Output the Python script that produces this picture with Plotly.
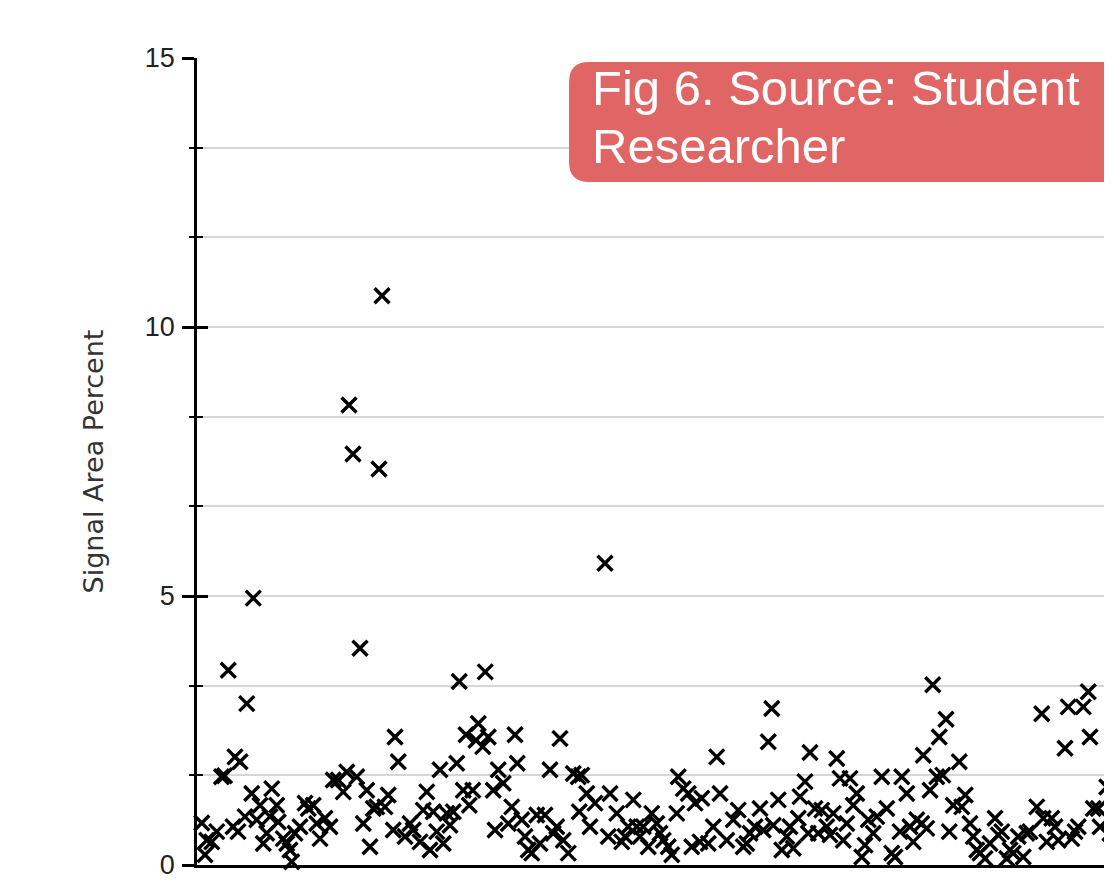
import plotly.graph_objects as go

# Sample index (approx.) and signal area percent
sample = [1.9, 3.2, 3.9, 5.9, 7.9, 9.8, 11.0, 12.5, 14.4, 15.2, 16.4, 17.2, 19.2, 19.9, 21.9, 22.5,
          23.9, 25.2, 26.5, 27.9, 29.2, 29.9, 31.9, 32.5, 34.5, 35.9, 37.2, 37.9, 39.2, 41.2, 43.2,
          44.5, 46.5, 47.9, 49.2, 51.2, 53.2, 54.5, 56.5, 58.5, 59.9, 60.8, 62.4, 63.9, 65.2, 66.5,
          67.9, 69.2, 70.5, 71.9, 72.8, 74.0, 75.2, 76.5, 78.5, 79.2, 80.5, 83.2, 85.2, 86.5, 89.2,
          90.5, 91.9, 93.2, 94.5, 95.9, 97.2, 98.5, 99.9, 101.2, 102.5, 103.9, 104.9, 106.5, 107.6,
          108.9, 110.3, 111.6, 112.5, 114.3, 115.3, 116.5, 118.5, 119.2, 120.5, 122.5, 124.5, 125.9,
          127.2, 128.1, 129.9, 131.2, 132.5, 133.9, 135.9, 137.2, 139.2, 141.2, 142.5, 143.9, 145.2,
          146.5, 148.5, 150.5, 152.5, 152.9, 153.9, 155.9, 157.2, 159.2, 163.2, 164.5, 165.2, 167.9,
          169.9, 171.2, 172.5, 174.5, 175.9, 177.2, 178.5, 180.5, 181.9, 183.9, 185.2, 186.5, 188.5,
          189.9, 191.9, 192.5, 194.5, 196.5, 197.9, 199.2, 201.2, 201.9, 204.5, 206.5, 207.9, 209.2,
          211.9, 214.5, 216.5, 218.5, 219.9, 221.2, 223.2, 225.2, 226.5, 228.5, 229.9, 230.5, 232.5,
          233.9, 235.9, 237.2, 238.5, 240.5, 241.2, 243.2, 244.5, 245.2, 247.2, 248.5, 249.9, 251.9,
          253.2, 254.5, 255.9, 257.2, 258.5, 259.9, 261.2, 262.5, 263.9, 265.9, 267.2, 268.5, 270.5,
          271.9, 273.9, 275.9, 277.9, 279.2, 281.2, 281.9, 283.9, 285.2, 286.5, 287.9, 289.9, 290.5,
          291.9, 293.2, 294.3, 295.9, 296.9, 298.3, 299.6, 300.9, 302.5, 304.9, 305.9, 307.3, 309.2,
          310.5, 311.9, 313.2, 315.2, 317.2, 319.2, 320.5, 321.9, 323.9, 325.2, 326.5, 328.5, 330.5,
          331.9, 333.2, 335.9, 337.9, 338.5, 339.9, 341.9, 343.2, 344.5, 347.2, 348.5, 349.9, 351.2,
          352.5, 354.5, 356.5, 357.2, 358.5, 360.5, 361.2, 363.9, 365.2]

signal_area_pct = [0.78, 0.19, 0.46, 0.43, 0.62, 1.64, 1.66, 3.62, 0.71, 2.01, 0.62, 1.92, 0.90, 3.00,
                   1.33, 4.96, 0.84, 1.11, 0.40, 0.59, 0.90, 1.42, 1.11, 0.80, 0.49, 0.40, 0.28, 0.06,
                   0.59, 0.71, 1.15, 1.05, 1.11, 0.77, 0.49, 0.87, 0.71, 1.58, 1.58, 1.36, 1.73, 8.55,
                   7.64, 1.64, 4.03, 0.77, 1.39, 0.34, 1.05, 1.08, 7.36, 10.58, 1.08, 1.30, 0.65, 2.38,
                   1.92, 0.53, 0.77, 0.65, 0.43, 1.02, 1.36, 0.28, 0.99, 0.62, 1.77, 0.40, 0.96, 0.74,
                   0.99, 1.89, 3.41, 1.39, 2.42, 1.11, 1.39, 2.32, 2.63, 2.20, 3.59, 2.38, 1.39, 0.65,
                   1.77, 1.52, 0.77, 1.08, 2.42, 1.89, 0.84, 0.53, 0.28, 0.22, 0.93, 0.40, 0.93, 1.77,
                   0.59, 0.71, 2.35, 0.46, 0.22, 1.70, 1.64, 0.99, 1.67, 1.33, 0.71, 1.15, 5.61, 0.53,
                   1.33, 0.96, 0.43, 0.53, 0.71, 1.21, 0.71, 0.53, 0.71, 0.34, 0.96, 0.77, 0.59, 0.46,
                   0.34, 0.19, 0.96, 1.64, 1.42, 1.33, 0.34, 1.15, 0.43, 1.24, 0.40, 0.71, 2.01, 1.33,
                   0.46, 0.84, 1.02, 0.34, 0.40, 0.59, 0.71, 1.05, 0.65, 2.29, 2.91, 0.74, 1.21, 0.28,
                   0.53, 0.71, 0.31, 0.87, 1.27, 1.55, 0.59, 2.09, 1.05, 0.59, 1.02, 0.71, 0.56, 0.96,
                   1.98, 1.61, 0.46, 0.77, 1.61, 1.11, 1.33, 0.15, 0.37, 0.84, 0.59, 0.90, 1.64, 1.05,
                   0.22, 0.15, 0.62, 1.64, 1.33, 0.71, 0.43, 0.84, 0.77, 2.04, 0.68, 1.39, 3.35, 1.64,
                   2.38, 1.67, 2.71, 0.62, 1.11, 1.92, 1.08, 1.30, 0.77, 0.53, 0.28, 0.22, 0.12, 0.40,
                   0.87, 0.56, 0.62, 0.12, 0.28, 0.22, 0.53, 0.15, 0.59, 0.62, 1.08, 2.81, 0.87, 0.43,
                   0.87, 0.71, 0.46, 2.17, 2.94, 0.49, 0.62, 0.71, 2.94, 3.22, 2.38, 1.05, 1.05, 0.71,
                   1.45, 0.59]

y_range = [0, 15]
x_range = [0, 366]
major_step = 5
minor_step = 5 / 3
y_title = "Signal Area Percent"
note_line1 = "Fig 6. Source: Student"
note_line2 = "Researcher"

fig = go.Figure()
fig.add_trace(go.Scatter(
    x=sample, y=signal_area_pct, mode="markers",
    marker=dict(symbol="x-thin-open", size=15, color="black",
                line=dict(color="black", width=3.4)),
    cliponaxis=False, showlegend=False, hoverinfo="skip",
))
# empty trace so the overlaid tick axis is drawn
fig.add_trace(go.Scatter(x=[], y=[], yaxis="y2", showlegend=False, hoverinfo="skip"))

# Box in paper coordinates (rounded left corners, extends beyond right edge)
x0, x1 = 0.4066, 1.05
y0, y1 = 0.8463, 0.995
rx, ry = 0.0219, 0.0248
path = (f"M {x0+rx},{y1} L {x1},{y1} L {x1},{y0} L {x0+rx},{y0} "
        f"Q {x0},{y0} {x0},{y0+ry} L {x0},{y1-ry} Q {x0},{y1} {x0+rx},{y1} Z")
fig.add_shape(type="path", path=path, xref="paper", yref="paper",
              fillcolor="#E06666", line=dict(width=0), layer="above")

fig.add_annotation(text=note_line1, xref="paper", yref="paper", x=0.4295, y=0.9628,
                   xanchor="left", yanchor="middle", showarrow=False,
                   font=dict(family="Liberation Sans, Arial", size=49, color="white"))
fig.add_annotation(text=note_line2, xref="paper", yref="paper", x=0.4295, y=0.8910,
                   xanchor="left", yanchor="middle", showarrow=False,
                   font=dict(family="Liberation Sans, Arial", size=49, color="white"))

fig.update_layout(
    width=1104, height=882,
    margin=dict(l=189, r=0, t=50, b=25),
    paper_bgcolor="white", plot_bgcolor="white",
    xaxis=dict(range=x_range, showgrid=False, zeroline=False, showticklabels=False,
               ticks="", showline=True, linecolor="black", linewidth=3),
    yaxis=dict(range=y_range, tick0=0, dtick=major_step, showgrid=True,
               gridcolor="#d6d6d6", gridwidth=2, zeroline=False,
               showline=True, linecolor="black", linewidth=2.5,
               ticks="outside", ticklen=12, tickwidth=2.5, tickcolor="black",
               ticklabelstandoff=2,
               tickfont=dict(family="Liberation Sans, Arial", size=27, color="#222"),
               minor=dict(dtick=minor_step, tick0=0, showgrid=True, gridcolor="#d6d6d6",
                          gridwidth=2, ticks="outside", ticklen=5, tickwidth=2,
                          tickcolor="black"),
               title=dict(text=y_title, standoff=34,
                          font=dict(family="DejaVu Sans, Liberation Sans", size=27, color="#333")),
               automargin=False),
    yaxis2=dict(range=y_range, tick0=0, dtick=major_step, overlaying="y", side="left",
                showgrid=False, zeroline=False, showline=False, showticklabels=False,
                ticks="inside", ticklen=11, tickwidth=2.5, tickcolor="black",
                minor=dict(dtick=minor_step, tick0=0, ticks="inside", ticklen=6,
                           tickwidth=2, tickcolor="black", showgrid=False),
                automargin=False),
)

fig.write_html("out.html")
